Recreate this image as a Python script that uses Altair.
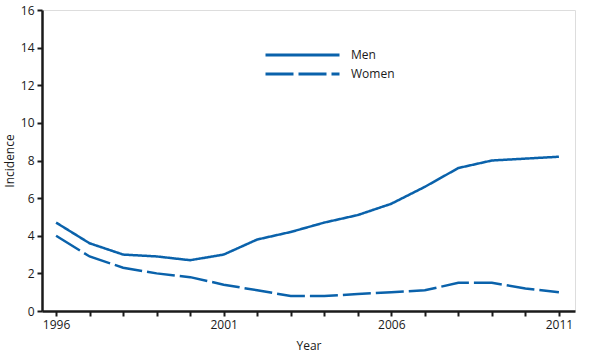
import altair as alt
import pandas as pd

years = list(range(1996, 2012))
men = [4.7, 3.6, 3.0, 2.9, 2.7, 3.0, 3.8, 4.2, 4.7, 5.1, 5.7, 6.6, 7.6, 8.0, 8.1, 8.2]
women = [4.0, 2.9, 2.3, 2.0, 1.8, 1.4, 1.1, 0.8, 0.8, 0.9, 1.0, 1.1, 1.5, 1.5, 1.2, 1.0]
series = ["Men", "Women"]
y_ticks = list(range(0, 17, 2))

rows = []
for y, m, w in zip(years, men, women):
    rows.append({"Year": y, "Sex": series[0], "Incidence": m})
    rows.append({"Year": y, "Sex": series[1], "Incidence": w})
df = pd.DataFrame(rows)

FONT = "Open Sans"
BLUE = "#0a62ab"
INK = "#1a1a1a"

chart = alt.Chart(df).mark_line(strokeWidth=2.5, color=BLUE).encode(
    x=alt.X("Year:Q",
            scale=alt.Scale(domain=[1995.58, 2011.48], nice=False, zero=False),
            axis=alt.Axis(values=years, format="d",
                          labelExpr="(datum.value - 1996) % 5 == 0 ? datum.label : ''",
                          title="Year", tickSize=5, tickWidth=2, tickColor=INK,
                          domainColor=INK, domainWidth=2.5, labelPadding=3,
                          titlePadding=10, grid=False,
                          labelFont=FONT, labelFontSize=12, labelColor=INK,
                          titleFont=FONT, titleFontSize=12, titleFontWeight="normal",
                          titleColor=INK)),
    y=alt.Y("Incidence:Q",
            scale=alt.Scale(domain=[0, 16], nice=False),
            axis=alt.Axis(values=y_ticks, title="Incidence", tickSize=5, tickWidth=2,
                          tickColor=INK, domainColor=INK, domainWidth=2.5,
                          labelPadding=3, titlePadding=4, grid=False,
                          labelFont=FONT, labelFontSize=12, labelColor=INK,
                          titleFont=FONT, titleFontSize=12, titleFontWeight="normal",
                          titleColor=INK)),
    strokeDash=alt.StrokeDash("Sex:N",
                              scale=alt.Scale(domain=series, range=[[1, 0], [28, 5]]),
                              legend=alt.Legend(title=None, orient="none", legendX=222,
                                                legendY=38, symbolType="stroke",
                                                symbolSize=5476, symbolStrokeWidth=3,
                                                symbolStrokeColor=BLUE, clipHeight=14,
                                                labelFont=FONT, labelFontSize=12,
                                                labelColor=INK, rowPadding=5,
                                                labelOffset=10)),
).properties(
    width=533, height=301,
    autosize=alt.AutoSizeParams(type="none"),
    padding={"left": 42, "top": 10, "right": 17, "bottom": 43},
).configure_view(
    stroke=INK, strokeWidth=2.5
).configure(background="white")

chart.save("out.html", embed_options={"renderer": "svg", "actions": False})
